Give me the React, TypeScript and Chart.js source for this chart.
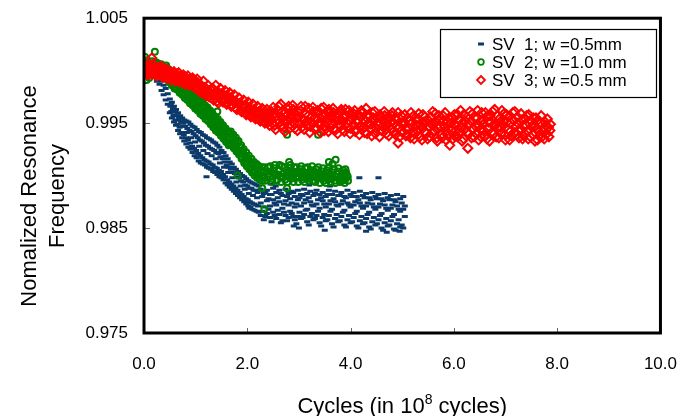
import { useEffect, useRef } from 'react';
import { Chart, registerables } from 'chart.js';

Chart.register(...registerables);

// ---------- data (x in 10^8 cycles, y = normalized resonance frequency) ----------
const seriesNames = ['SV  1; w =0.5mm', 'SV  2; w =1.0 mm', 'SV  3; w =0.5 mm'];

const sv1Points: number[][] = [
  [0.02, 1.0006], [0.05, 1.0000], [0.08, 1.0003], [0.12, 0.9997], [0.15, 1.0001], [0.20, 0.9994], [0.25, 0.9990],
  [0.30, 0.9994], [0.30, 0.9987], [0.34, 0.9981], [0.34, 0.9990], [0.38, 0.9986], [0.38, 0.9977],
  [0.42, 0.9983], [0.42, 0.9972], [0.46, 0.9978], [0.46, 0.9968], [0.50, 0.9973], [0.50, 0.9960], [0.51, 0.9966],
  [0.54, 0.9970], [0.54, 0.9955], [0.58, 0.9966], [0.58, 0.9951], [0.59, 0.9958], [0.62, 0.9963], [0.62, 0.9948],
  [0.66, 0.9960], [0.66, 0.9943], [0.67, 0.9953], [0.70, 0.9957], [0.70, 0.9940], [0.74, 0.9955], [0.74, 0.9936],
  [0.75, 0.9947], [0.78, 0.9953], [0.78, 0.9933], [0.82, 0.9952], [0.82, 0.9930], [0.83, 0.9941], [0.86, 0.9951],
  [0.86, 0.9927], [0.90, 0.9949], [0.90, 0.9925], [0.91, 0.9936], [0.94, 0.9947], [0.94, 0.9922], [0.98, 0.9946],
  [0.98, 0.9919], [0.99, 0.9932], [1.02, 0.9944], [1.02, 0.9917], [1.06, 0.9942], [1.06, 0.9914], [1.07, 0.9928],
  [1.10, 0.9941], [1.10, 0.9912], [1.14, 0.9939], [1.14, 0.9911], [1.15, 0.9924], [1.18, 0.9938], [1.18, 0.9910],
  [1.22, 0.9936], [1.22, 0.9908], [1.23, 0.9921], [1.26, 0.9935], [1.26, 0.9907], [1.30, 0.9934], [1.30, 0.9906],
  [1.31, 0.9919], [1.34, 0.9932], [1.34, 0.9904], [1.38, 0.9931], [1.38, 0.9903], [1.39, 0.9916], [1.42, 0.9929],
  [1.42, 0.9901], [1.46, 0.9927], [1.46, 0.9899], [1.47, 0.9912], [1.50, 0.9924], [1.50, 0.9898], [1.54, 0.9922],
  [1.54, 0.9896], [1.55, 0.9908], [1.58, 0.9919], [1.58, 0.9893], [1.62, 0.9916], [1.62, 0.9891], [1.63, 0.9903],
  [1.66, 0.9913], [1.66, 0.9889], [1.70, 0.9911], [1.70, 0.9887], [1.71, 0.9898], [1.74, 0.9908], [1.74, 0.9885],
  [1.78, 0.9906], [1.78, 0.9883], [1.79, 0.9894], [1.82, 0.9904], [1.82, 0.9881], [1.86, 0.9902], [1.86, 0.9879],
  [1.87, 0.9890], [1.90, 0.9900], [1.90, 0.9877], [1.94, 0.9899], [1.94, 0.9875], [1.95, 0.9887], [1.98, 0.9897],
  [1.98, 0.9873], [2.02, 0.9895], [2.02, 0.9871], [2.03, 0.9883], [2.06, 0.9894], [2.06, 0.9870], [2.10, 0.9893],
  [2.10, 0.9868], [2.11, 0.9881], [2.14, 0.9892], [2.14, 0.9867], [2.18, 0.9891], [2.18, 0.9866], [2.19, 0.9879],
  [2.22, 0.9890], [2.22, 0.9865],
  [0.52, 0.9968], [0.53, 0.9961], [0.56, 0.9964], [0.57, 0.9957], [0.60, 0.9961], [0.61, 0.9953], [0.64, 0.9957],
  [0.65, 0.9949], [0.68, 0.9955], [0.69, 0.9946], [0.72, 0.9951], [0.73, 0.9941], [0.76, 0.9950], [0.77, 0.9939],
  [0.80, 0.9947], [0.81, 0.9936], [0.84, 0.9945], [0.85, 0.9934], [0.88, 0.9943], [0.89, 0.9931], [0.92, 0.9942],
  [0.93, 0.9928], [0.96, 0.9940], [0.97, 0.9926], [1.00, 0.9938], [1.01, 0.9924], [1.04, 0.9936], [1.05, 0.9921],
  [1.08, 0.9934], [1.09, 0.9919], [1.12, 0.9933], [1.13, 0.9917], [1.16, 0.9931], [1.17, 0.9915], [1.20, 0.9929],
  [1.21, 0.9914], [1.24, 0.9928], [1.25, 0.9913], [1.28, 0.9926], [1.29, 0.9911], [1.32, 0.9925], [1.33, 0.9910],
  [1.36, 0.9924], [1.37, 0.9908], [1.40, 0.9922], [1.41, 0.9907], [1.44, 0.9921], [1.45, 0.9905], [1.48, 0.9918],
  [1.49, 0.9904], [1.52, 0.9916], [1.53, 0.9901], [1.56, 0.9913], [1.57, 0.9899], [1.60, 0.9910], [1.61, 0.9896],
  [1.64, 0.9908], [1.65, 0.9894], [1.68, 0.9906], [1.69, 0.9892], [1.72, 0.9903], [1.73, 0.9890], [1.76, 0.9902],
  [1.77, 0.9888], [1.80, 0.9899], [1.81, 0.9886], [1.84, 0.9898], [1.85, 0.9884], [1.88, 0.9895], [1.89, 0.9882],
  [1.92, 0.9894], [1.93, 0.9880], [1.96, 0.9891], [1.97, 0.9878], [2.00, 0.9890], [2.01, 0.9877], [2.04, 0.9888],
  [2.05, 0.9875], [2.08, 0.9888], [2.09, 0.9874], [2.12, 0.9886], [2.13, 0.9873], [2.16, 0.9886], [2.17, 0.9872],
  [2.20, 0.9884], [2.21, 0.9871],
  [2.26, 0.9887], [2.26, 0.9874], [2.26, 0.9862], [2.32, 0.9883], [2.32, 0.9870], [2.32, 0.9858],
  [2.38, 0.9886], [2.38, 0.9876], [2.38, 0.9864], [2.44, 0.9882], [2.44, 0.9871], [2.44, 0.9860],
  [2.50, 0.9888], [2.50, 0.9877], [2.50, 0.9865], [2.56, 0.9884], [2.56, 0.9872], [2.56, 0.9859],
  [2.62, 0.9886], [2.62, 0.9875], [2.62, 0.9863], [2.68, 0.9881], [2.68, 0.9869], [2.68, 0.9857],
  [2.74, 0.9887], [2.74, 0.9876], [2.74, 0.9862], [2.80, 0.9883], [2.80, 0.9872], [2.80, 0.9860],
  [2.86, 0.9885], [2.86, 0.9874], [2.86, 0.9864], [2.92, 0.9880], [2.92, 0.9870], [2.92, 0.9858],
  [2.98, 0.9886], [2.98, 0.9877], [2.98, 0.9861], [3.04, 0.9882], [3.04, 0.9871], [3.04, 0.9859],
  [3.10, 0.9887], [3.10, 0.9874], [3.10, 0.9863], [3.16, 0.9883], [3.16, 0.9868], [3.16, 0.9856],
  [3.22, 0.9885], [3.22, 0.9875], [3.22, 0.9861], [3.28, 0.9881], [3.28, 0.9871], [3.28, 0.9858],
  [3.34, 0.9886], [3.34, 0.9873], [3.34, 0.9862], [3.40, 0.9882], [3.40, 0.9869], [3.40, 0.9855],
  [3.46, 0.9884], [3.46, 0.9876], [3.46, 0.9860], [3.52, 0.9880], [3.52, 0.9870], [3.52, 0.9857],
  [3.58, 0.9886], [3.58, 0.9873], [3.58, 0.9862], [3.64, 0.9882], [3.64, 0.9868], [3.64, 0.9854],
  [3.70, 0.9885], [3.70, 0.9875], [3.70, 0.9859], [3.76, 0.9881], [3.76, 0.9871], [3.76, 0.9856],
  [3.82, 0.9884], [3.82, 0.9873], [3.82, 0.9861], [3.88, 0.9880], [3.88, 0.9867], [3.88, 0.9853],
  [3.94, 0.9886], [3.94, 0.9874], [3.94, 0.9858], [4.00, 0.9882], [4.00, 0.9870], [4.00, 0.9855],
  [4.06, 0.9884], [4.06, 0.9872], [4.06, 0.9860], [4.12, 0.9880], [4.12, 0.9866], [4.12, 0.9852],
  [4.18, 0.9885], [4.18, 0.9874], [4.18, 0.9857], [4.24, 0.9881], [4.24, 0.9869], [4.24, 0.9854],
  [4.30, 0.9883], [4.30, 0.9871], [4.30, 0.9859], [4.36, 0.9879], [4.36, 0.9865], [4.36, 0.9851],
  [4.42, 0.9884], [4.42, 0.9873], [4.42, 0.9856], [4.48, 0.9880], [4.48, 0.9868], [4.48, 0.9853],
  [4.54, 0.9882], [4.54, 0.9870], [4.54, 0.9858], [4.60, 0.9878], [4.60, 0.9864], [4.60, 0.9850],
  [4.66, 0.9883], [4.66, 0.9872], [4.66, 0.9855], [4.72, 0.9879], [4.72, 0.9867], [4.72, 0.9852],
  [4.78, 0.9881], [4.78, 0.9869], [4.78, 0.9857], [4.84, 0.9877], [4.84, 0.9863], [4.84, 0.9849],
  [4.90, 0.9882], [4.90, 0.9871], [4.90, 0.9854], [4.96, 0.9878], [4.96, 0.9866], [4.96, 0.9851],
  [5.02, 0.9880], [5.02, 0.9868], [5.02, 0.9850],
  [2.29, 0.9880], [2.29, 0.9866], [2.35, 0.9884], [2.35, 0.9861], [2.41, 0.9878], [2.41, 0.9868], [2.47, 0.9882],
  [2.47, 0.9856], [2.53, 0.9874], [2.53, 0.9862], [2.59, 0.9879], [2.59, 0.9867], [2.65, 0.9883], [2.65, 0.9855],
  [2.71, 0.9873], [2.71, 0.9865], [2.77, 0.9880], [2.77, 0.9857], [2.83, 0.9878], [2.83, 0.9866], [2.89, 0.9884],
  [2.89, 0.9861], [2.95, 0.9873], [2.95, 0.9854], [3.01, 0.9879], [3.01, 0.9865], [3.07, 0.9881], [3.07, 0.9860],
  [3.13, 0.9877], [3.13, 0.9867], [3.19, 0.9879], [3.19, 0.9853], [3.25, 0.9872], [3.25, 0.9864], [3.31, 0.9883],
  [3.31, 0.9859], [3.37, 0.9877], [3.37, 0.9866], [3.43, 0.9879], [3.43, 0.9852], [3.49, 0.9873], [3.49, 0.9863],
  [3.55, 0.9882], [3.55, 0.9858], [3.61, 0.9876], [3.61, 0.9866], [3.67, 0.9878], [3.67, 0.9851], [3.73, 0.9872],
  [3.73, 0.9863], [3.79, 0.9881], [3.79, 0.9857], [3.85, 0.9876], [3.85, 0.9865], [3.91, 0.9879], [3.91, 0.9851],
  [3.97, 0.9872], [3.97, 0.9862], [4.03, 0.9880], [4.03, 0.9856], [4.09, 0.9875], [4.09, 0.9864], [4.15, 0.9877],
  [4.15, 0.9850], [4.21, 0.9871], [4.21, 0.9861], [4.27, 0.9879], [4.27, 0.9855], [4.33, 0.9874], [4.33, 0.9863],
  [4.39, 0.9877], [4.39, 0.9849], [4.45, 0.9870], [4.45, 0.9860], [4.51, 0.9878], [4.51, 0.9854], [4.57, 0.9873],
  [4.57, 0.9862], [4.63, 0.9876], [4.63, 0.9848], [4.69, 0.9869], [4.69, 0.9859], [4.75, 0.9877], [4.75, 0.9853],
  [4.81, 0.9872], [4.81, 0.9861], [4.87, 0.9875], [4.87, 0.9848], [4.93, 0.9868], [4.93, 0.9858], [4.99, 0.9874],
  [4.99, 0.9853], [5.05, 0.9871], [5.05, 0.9861],
  [1.21, 0.9899], [2.04, 0.9869], [4.17, 0.9898], [4.54, 0.9898], [2.45, 0.9892], [2.55, 0.9890],
  [3.20, 0.9891], [3.60, 0.9890], [2.90, 0.9852], [3.00, 0.9850], [3.50, 0.9848], [4.30, 0.9847],
  [4.70, 0.9846], [4.95, 0.9847],
];

const sv2Points: number[][] = [
  [0.00, 1.0008], [0.01, 1.0001], [0.03, 0.9997], [0.04, 1.0005], [0.06, 1.0010], [0.07, 0.9999], [0.09, 1.0003],
  [0.11, 1.0007], [0.12, 0.9998], [0.14, 1.0004], [0.16, 1.0009], [0.18, 1.0001], [0.20, 1.0006], [0.22, 0.9997],
  [0.24, 1.0003], [0.26, 1.0007], [0.28, 0.9999], [0.30, 1.0004], [0.32, 0.9996], [0.34, 1.0002], [0.36, 1.0005],
  [0.38, 0.9995], [0.40, 1.0000], [0.05, 0.9991], [0.10, 0.9993], [0.21, 1.0018], [0.02, 1.0013],
  [0.01, 1.0004], [0.02, 0.9999], [0.05, 1.0006], [0.08, 1.0001], [0.10, 0.9997], [0.13, 1.0006], [0.15, 1.0002],
  [0.17, 0.9997], [0.19, 1.0004], [0.21, 1.0000], [0.23, 1.0008], [0.25, 0.9999], [0.27, 1.0003], [0.29, 1.0006],
  [0.31, 0.9999], [0.33, 1.0006], [0.35, 0.9998], [0.37, 1.0002], [0.39, 0.9997],
  [0.42, 1.0003], [0.44, 0.9994], [0.47, 0.9999], [0.49, 0.9990], [0.52, 0.9997], [0.54, 0.9988], [0.57, 0.9993],
  [0.59, 0.9985], [0.62, 0.9994], [0.64, 0.9983], [0.67, 0.9989], [0.69, 0.9980], [0.72, 0.9988], [0.74, 0.9978],
  [0.77, 0.9985], [0.79, 0.9976], [0.82, 0.9983], [0.84, 0.9974], [0.87, 0.9980], [0.89, 0.9971], [0.92, 0.9978],
  [0.94, 0.9969], [0.97, 0.9975], [0.99, 0.9966], [1.02, 0.9973], [1.04, 0.9964], [1.07, 0.9970], [1.09, 0.9961],
  [1.12, 0.9968], [1.14, 0.9958], [1.17, 0.9965], [1.19, 0.9956], [1.22, 0.9963], [1.24, 0.9953], [1.27, 0.9960],
  [1.29, 0.9950], [1.32, 0.9957], [1.34, 0.9948], [1.37, 0.9954], [1.39, 0.9945], [1.42, 0.9952], [1.44, 0.9942],
  [1.47, 0.9949], [1.49, 0.9939], [1.52, 0.9946], [1.54, 0.9936], [1.57, 0.9943], [1.59, 0.9933], [1.62, 0.9940],
  [1.64, 0.9930], [1.67, 0.9940], [1.69, 0.9931], [1.72, 0.9937], [1.74, 0.9928], [1.77, 0.9934], [1.79, 0.9925],
  [1.82, 0.9931], [1.84, 0.9921], [1.87, 0.9927], [1.89, 0.9918], [1.92, 0.9923], [1.94, 0.9914], [1.97, 0.9919],
  [1.99, 0.9911], [2.02, 0.9916], [2.04, 0.9908], [2.07, 0.9912], [2.09, 0.9905], [2.12, 0.9910], [2.14, 0.9903],
  [2.17, 0.9908], [2.19, 0.9901], [2.22, 0.9906], [2.24, 0.9899], [2.27, 0.9905], [2.29, 0.9898], [2.32, 0.9904],
  [2.34, 0.9898], [2.37, 0.9904],
  [0.43, 1.0005], [0.44, 0.9992], [0.48, 1.0001], [0.49, 0.9989], [0.53, 0.9999], [0.54, 0.9986], [0.58, 0.9996],
  [0.59, 0.9983], [0.63, 0.9995], [0.64, 0.9982], [0.68, 0.9992], [0.69, 0.9979], [0.73, 0.9990], [0.74, 0.9977],
  [0.78, 0.9987], [0.79, 0.9974], [0.83, 0.9985], [0.84, 0.9972], [0.88, 0.9982], [0.89, 0.9969], [0.93, 0.9980],
  [0.94, 0.9967], [0.98, 0.9977], [0.99, 0.9964], [1.03, 0.9975], [1.04, 0.9962], [1.08, 0.9972], [1.09, 0.9959],
  [1.13, 0.9970], [1.14, 0.9957], [1.18, 0.9967], [1.19, 0.9954], [1.23, 0.9965], [1.24, 0.9952], [1.28, 0.9962],
  [1.29, 0.9949], [1.33, 0.9959], [1.34, 0.9946], [1.38, 0.9956], [1.39, 0.9943], [1.43, 0.9954], [1.44, 0.9941],
  [1.48, 0.9951], [1.49, 0.9938], [1.53, 0.9948], [1.54, 0.9935], [1.58, 0.9945], [1.59, 0.9932], [1.63, 0.9942],
  [1.64, 0.9929], [1.68, 0.9942], [1.69, 0.9929], [1.73, 0.9939], [1.74, 0.9926], [1.78, 0.9936], [1.79, 0.9923],
  [1.83, 0.9933], [1.84, 0.9920], [1.88, 0.9929], [1.89, 0.9916], [1.93, 0.9925], [1.94, 0.9912], [1.98, 0.9922],
  [1.99, 0.9909], [2.03, 0.9919], [2.04, 0.9906], [2.08, 0.9916], [2.09, 0.9903], [2.13, 0.9913], [2.14, 0.9900],
  [2.18, 0.9911], [2.19, 0.9898], [2.23, 0.9909], [2.24, 0.9896], [2.28, 0.9908], [2.29, 0.9895], [2.33, 0.9908],
  [2.34, 0.9895],
  [2.40, 0.9908], [2.43, 0.9899], [2.46, 0.9904], [2.49, 0.9897], [2.52, 0.9907], [2.55, 0.9901], [2.58, 0.9896],
  [2.61, 0.9905], [2.64, 0.9899], [2.67, 0.9909], [2.70, 0.9902], [2.73, 0.9896], [2.76, 0.9905], [2.79, 0.9900],
  [2.82, 0.9907], [2.85, 0.9897], [2.88, 0.9903], [2.91, 0.9908], [2.94, 0.9898], [2.97, 0.9904], [3.00, 0.9899],
  [3.03, 0.9906], [3.06, 0.9896], [3.09, 0.9902], [3.12, 0.9907], [3.15, 0.9897], [3.18, 0.9903], [3.21, 0.9899],
  [3.24, 0.9905], [3.27, 0.9895], [3.30, 0.9901], [3.33, 0.9906], [3.36, 0.9897], [3.39, 0.9902], [3.42, 0.9898],
  [3.45, 0.9904], [3.48, 0.9895], [3.51, 0.9900], [3.54, 0.9905], [3.57, 0.9896], [3.60, 0.9901], [3.63, 0.9897],
  [3.66, 0.9903], [3.69, 0.9895], [3.72, 0.9899], [3.75, 0.9904], [3.78, 0.9896], [3.81, 0.9900], [3.84, 0.9895],
  [3.87, 0.9902], [3.90, 0.9897], [3.93, 0.9900], [3.95, 0.9895],
  [2.415, 0.9902], [2.445, 0.9909], [2.475, 0.9894], [2.505, 0.9902], [2.535, 0.9910], [2.565, 0.9895],
  [2.595, 0.9901], [2.625, 0.9910], [2.655, 0.9894], [2.685, 0.9899], [2.715, 0.9908], [2.745, 0.9900],
  [2.775, 0.9894], [2.805, 0.9903], [2.835, 0.9910], [2.865, 0.9900], [2.895, 0.9894], [2.925, 0.9902],
  [2.955, 0.9908], [2.985, 0.9894], [3.015, 0.9903], [3.045, 0.9909], [3.075, 0.9899], [3.105, 0.9894],
  [3.135, 0.9901], [3.165, 0.9908], [3.195, 0.9895], [3.225, 0.9902], [3.255, 0.9909], [3.285, 0.9900],
  [3.315, 0.9894], [3.345, 0.9903], [3.375, 0.9908], [3.405, 0.9893], [3.435, 0.9900], [3.465, 0.9907],
  [3.495, 0.9898], [3.525, 0.9893], [3.555, 0.9902], [3.585, 0.9908], [3.615, 0.9894], [3.645, 0.9899],
  [3.675, 0.9906], [3.705, 0.9893], [3.735, 0.9902], [3.765, 0.9907], [3.795, 0.9894], [3.825, 0.9898],
  [3.855, 0.9905], [3.885, 0.9893], [3.915, 0.9903], [3.945, 0.9899],
  [1.42, 0.9961], [1.42, 0.9943], [1.81, 0.9900], [2.29, 0.9888], [2.33, 0.9868], [2.77, 0.9939], [3.37, 0.9939],
  [2.77, 0.9888], [2.81, 0.9913], [3.58, 0.9913], [3.65, 0.9911], [3.71, 0.9915], [3.90, 0.9906],
];

const sv3Points: number[][] = [
  [0.00, 1.0003], [0.02, 0.9998], [0.04, 1.0005], [0.06, 1.0000], [0.08, 0.9996], [0.10, 1.0004], [0.13, 1.0001],
  [0.15, 0.9997], [0.15, 1.0012], [0.17, 1.0006], [0.20, 0.9999], [0.23, 1.0003], [0.25, 0.9995], [0.28, 1.0001],
  [0.30, 0.9997], [0.33, 1.0004], [0.36, 0.9994], [0.38, 0.9999], [0.41, 1.0002], [0.44, 0.9993], [0.46, 0.9998],
  [0.49, 1.0000], [0.52, 0.9991], [0.55, 0.9996], [0.58, 0.9999], [0.61, 0.9990], [0.64, 0.9995], [0.67, 0.9998],
  [0.70, 0.9989], [0.73, 0.9993], [0.76, 0.9996], [0.79, 0.9987], [0.82, 0.9991], [0.85, 0.9995], [0.88, 0.9986],
  [0.91, 0.9990], [0.94, 0.9993], [0.97, 0.9984], [1.00, 0.9988],
  [0.01, 1.0000], [0.03, 1.0002], [0.05, 0.9997], [0.07, 1.0003], [0.09, 1.0000], [0.12, 0.9998], [0.14, 1.0003],
  [0.16, 1.0000], [0.19, 1.0002], [0.21, 0.9996], [0.24, 1.0000], [0.27, 0.9998], [0.29, 1.0003], [0.32, 0.9999],
  [0.34, 0.9995], [0.37, 1.0001], [0.40, 0.9997], [0.42, 0.9999], [0.45, 0.9996], [0.48, 0.9994], [0.50, 0.9997],
  [0.53, 0.9995], [0.56, 0.9993], [0.59, 0.9994], [0.62, 0.9997], [0.65, 0.9991], [0.68, 0.9993], [0.71, 0.9995],
  [0.74, 0.9990], [0.77, 0.9992], [0.80, 0.9994], [0.83, 0.9988], [0.86, 0.9990], [0.89, 0.9992], [0.92, 0.9987],
  [0.95, 0.9989], [0.98, 0.9991],
  [1.03, 0.9992], [1.06, 0.9983], [1.09, 0.9987], [1.12, 0.9979], [1.15, 0.9990], [1.18, 0.9984], [1.21, 0.9976],
  [1.24, 0.9986], [1.27, 0.9980], [1.30, 0.9974], [1.33, 0.9983], [1.36, 0.9977], [1.39, 0.9986], [1.42, 0.9971],
  [1.45, 0.9979], [1.48, 0.9983], [1.51, 0.9973], [1.54, 0.9977], [1.57, 0.9981], [1.60, 0.9968], [1.63, 0.9975],
  [1.66, 0.9979], [1.69, 0.9966], [1.72, 0.9972], [1.75, 0.9977], [1.78, 0.9964], [1.81, 0.9969], [1.84, 0.9974],
  [1.87, 0.9962], [1.90, 0.9967], [1.93, 0.9972], [1.96, 0.9960], [1.99, 0.9966], [2.02, 0.9970], [2.05, 0.9958],
  [2.08, 0.9963], [2.11, 0.9968], [2.14, 0.9956], [2.17, 0.9961], [2.20, 0.9966], [2.23, 0.9954], [2.26, 0.9960],
  [2.29, 0.9964], [2.32, 0.9952], [2.35, 0.9958], [2.38, 0.9963], [2.41, 0.9951], [2.44, 0.9956], [2.47, 0.9961],
  [1.02, 0.9985], [1.05, 0.9988], [1.08, 0.9980], [1.11, 0.9985], [1.14, 0.9982], [1.17, 0.9978], [1.20, 0.9983],
  [1.23, 0.9979], [1.26, 0.9975], [1.29, 0.9982], [1.32, 0.9977], [1.35, 0.9972], [1.38, 0.9979], [1.41, 0.9976],
  [1.44, 0.9969], [1.47, 0.9975], [1.50, 0.9978], [1.53, 0.9970], [1.56, 0.9973], [1.59, 0.9976], [1.62, 0.9969],
  [1.65, 0.9972], [1.68, 0.9974], [1.71, 0.9967], [1.74, 0.9970], [1.77, 0.9971], [1.80, 0.9963], [1.83, 0.9968],
  [1.86, 0.9969], [1.89, 0.9961], [1.92, 0.9965], [1.95, 0.9967], [1.98, 0.9958], [2.01, 0.9963], [2.04, 0.9965],
  [2.07, 0.9956], [2.10, 0.9961], [2.13, 0.9963], [2.16, 0.9954], [2.19, 0.9959], [2.22, 0.9961], [2.25, 0.9952],
  [2.28, 0.9957], [2.31, 0.9960], [2.34, 0.9950], [2.37, 0.9955], [2.40, 0.9959], [2.43, 0.9948], [2.46, 0.9953],
  [2.49, 0.9957],
  [2.50, 0.9965], [2.53, 0.9948], [2.56, 0.9957], [2.59, 0.9962], [2.62, 0.9951], [2.65, 0.9968], [2.68, 0.9955],
  [2.71, 0.9946], [2.74, 0.9960], [2.77, 0.9953], [2.80, 0.9966], [2.83, 0.9949], [2.86, 0.9958], [2.89, 0.9963],
  [2.92, 0.9945], [2.95, 0.9955], [2.98, 0.9961], [3.01, 0.9950], [3.04, 0.9966], [3.07, 0.9954], [3.10, 0.9944],
  [3.13, 0.9959], [3.16, 0.9952], [3.19, 0.9964], [3.22, 0.9947], [3.25, 0.9956], [3.28, 0.9961], [3.31, 0.9944],
  [3.34, 0.9953], [3.37, 0.9960], [3.40, 0.9949], [3.43, 0.9964], [3.46, 0.9953], [3.49, 0.9943], [3.52, 0.9958],
  [3.55, 0.9951], [3.58, 0.9963], [3.61, 0.9946], [3.64, 0.9955], [3.67, 0.9960], [3.70, 0.9943], [3.73, 0.9952],
  [3.76, 0.9959], [3.79, 0.9948], [3.82, 0.9963], [3.85, 0.9952], [3.88, 0.9942], [3.91, 0.9957], [3.94, 0.9950],
  [3.97, 0.9962], [4.00, 0.9945], [4.03, 0.9954], [4.06, 0.9959], [4.09, 0.9942], [4.12, 0.9951], [4.15, 0.9958],
  [4.18, 0.9947], [4.21, 0.9962], [4.24, 0.9950], [4.27, 0.9941], [4.30, 0.9964], [4.33, 0.9949], [4.36, 0.9956],
  [4.39, 0.9945], [4.42, 0.9960], [4.45, 0.9952], [4.48, 0.9940], [4.51, 0.9955], [4.54, 0.9948], [4.57, 0.9958],
  [4.60, 0.9943], [4.63, 0.9952], [4.66, 0.9957], [4.69, 0.9940], [4.72, 0.9949], [4.75, 0.9956], [4.78, 0.9945],
  [4.81, 0.9960], [4.84, 0.9950], [4.87, 0.9939], [4.90, 0.9953], [4.92, 0.9931], [4.95, 0.9946], [4.98, 0.9957],
  [2.52, 0.9959], [2.55, 0.9944], [2.58, 0.9953], [2.61, 0.9966], [2.64, 0.9947], [2.67, 0.9961], [2.70, 0.9952],
  [2.73, 0.9942], [2.76, 0.9957], [2.79, 0.9963], [2.82, 0.9945], [2.85, 0.9954], [2.88, 0.9967], [2.91, 0.9950],
  [2.94, 0.9959], [2.97, 0.9943], [3.00, 0.9956], [3.03, 0.9962], [3.06, 0.9946], [3.09, 0.9953], [3.12, 0.9966],
  [3.15, 0.9948], [3.18, 0.9957], [3.21, 0.9941], [3.24, 0.9951], [3.27, 0.9965], [3.30, 0.9955], [3.33, 0.9946],
  [3.36, 0.9962], [3.39, 0.9951], [3.42, 0.9941], [3.45, 0.9957], [3.48, 0.9965], [3.51, 0.9947], [3.54, 0.9954],
  [3.57, 0.9942], [3.60, 0.9960], [3.63, 0.9950], [3.66, 0.9964], [3.69, 0.9945], [3.72, 0.9956], [3.75, 0.9940],
  [3.78, 0.9953], [3.81, 0.9961], [3.84, 0.9944], [3.87, 0.9955], [3.90, 0.9963], [3.93, 0.9946], [3.96, 0.9953],
  [3.99, 0.9940], [4.02, 0.9958], [4.05, 0.9948], [4.08, 0.9962], [4.11, 0.9944], [4.14, 0.9953], [4.17, 0.9939],
  [4.20, 0.9956], [4.23, 0.9960], [4.26, 0.9946], [4.29, 0.9952], [4.32, 0.9940], [4.35, 0.9958], [4.38, 0.9949],
  [4.41, 0.9938], [4.44, 0.9955], [4.47, 0.9961], [4.50, 0.9945], [4.53, 0.9951], [4.56, 0.9937], [4.59, 0.9956],
  [4.62, 0.9947], [4.65, 0.9961], [4.68, 0.9944], [4.71, 0.9954], [4.74, 0.9938], [4.77, 0.9951], [4.80, 0.9957],
  [4.83, 0.9942], [4.86, 0.9955], [4.89, 0.9947], [4.92, 0.9960], [4.95, 0.9937], [4.98, 0.9950],
  [5.01, 0.9941], [5.04, 0.9951], [5.07, 0.9938], [5.10, 0.9955], [5.13, 0.9945], [5.16, 0.9936], [5.19, 0.9950],
  [5.22, 0.9957], [5.25, 0.9940], [5.28, 0.9948], [5.31, 0.9954], [5.34, 0.9937], [5.37, 0.9946], [5.40, 0.9958],
  [5.43, 0.9942], [5.46, 0.9951], [5.49, 0.9935], [5.52, 0.9947], [5.55, 0.9956], [5.58, 0.9940], [5.61, 0.9949],
  [5.64, 0.9959], [5.67, 0.9936], [5.70, 0.9945], [5.73, 0.9953], [5.76, 0.9939], [5.79, 0.9957], [5.82, 0.9946],
  [5.85, 0.9934], [5.88, 0.9951], [5.92, 0.9929], [5.95, 0.9943], [5.98, 0.9955], [6.01, 0.9938], [6.04, 0.9948],
  [6.07, 0.9958], [6.10, 0.9941], [6.13, 0.9962], [6.16, 0.9950], [6.19, 0.9935], [6.22, 0.9945], [6.25, 0.9956],
  [6.27, 0.9926], [6.30, 0.9940], [6.33, 0.9952], [6.36, 0.9959], [6.39, 0.9937], [6.42, 0.9947], [6.45, 0.9955],
  [6.48, 0.9934], [6.51, 0.9944], [6.54, 0.9960], [6.57, 0.9949], [6.60, 0.9938], [6.63, 0.9956], [6.66, 0.9945],
  [6.69, 0.9933], [6.72, 0.9951], [6.75, 0.9961], [6.78, 0.9940], [6.81, 0.9948], [6.84, 0.9957], [6.87, 0.9936],
  [6.90, 0.9946], [6.93, 0.9962], [6.96, 0.9952], [6.99, 0.9939], [7.02, 0.9958], [7.05, 0.9944], [7.08, 0.9934],
  [7.11, 0.9950], [7.14, 0.9960], [7.17, 0.9941], [7.20, 0.9947], [7.23, 0.9956], [7.26, 0.9936], [7.29, 0.9945],
  [7.32, 0.9953], [7.35, 0.9938], [7.38, 0.9949], [7.41, 0.9957], [7.44, 0.9935], [7.47, 0.9944], [7.50, 0.9952],
  [7.53, 0.9939], [7.56, 0.9947], [7.59, 0.9955], [7.62, 0.9934], [7.65, 0.9942], [7.68, 0.9950], [7.71, 0.9937],
  [7.74, 0.9945], [7.77, 0.9951], [7.80, 0.9940], [7.83, 0.9946], [7.86, 0.9943],
  [5.02, 0.9948], [5.05, 0.9958], [5.08, 0.9944], [5.11, 0.9939], [5.14, 0.9952], [5.17, 0.9960], [5.20, 0.9942],
  [5.23, 0.9935], [5.26, 0.9953], [5.29, 0.9943], [5.32, 0.9959], [5.35, 0.9949], [5.38, 0.9934], [5.41, 0.9951],
  [5.44, 0.9956], [5.47, 0.9940], [5.50, 0.9953], [5.53, 0.9937], [5.56, 0.9949], [5.59, 0.9961], [5.62, 0.9943],
  [5.65, 0.9951], [5.68, 0.9933], [5.71, 0.9957], [5.74, 0.9947], [5.77, 0.9936], [5.80, 0.9952], [5.83, 0.9960],
  [5.86, 0.9942], [5.89, 0.9938], [5.92, 0.9954], [5.95, 0.9950], [5.98, 0.9935], [6.01, 0.9958], [6.04, 0.9943],
  [6.07, 0.9937], [6.10, 0.9953], [6.13, 0.9946], [6.16, 0.9933], [6.19, 0.9958], [6.22, 0.9952], [6.25, 0.9941],
  [6.28, 0.9949], [6.31, 0.9961], [6.34, 0.9936], [6.37, 0.9944], [6.40, 0.9955], [6.43, 0.9940], [6.46, 0.9962],
  [6.49, 0.9948], [6.52, 0.9937], [6.55, 0.9953], [6.58, 0.9943], [6.61, 0.9960], [6.64, 0.9935], [6.67, 0.9951],
  [6.70, 0.9957], [6.73, 0.9941], [6.76, 0.9948], [6.79, 0.9963], [6.82, 0.9937], [6.85, 0.9946], [6.88, 0.9954],
  [6.91, 0.9940], [6.94, 0.9949], [6.97, 0.9959], [7.00, 0.9934], [7.03, 0.9951], [7.06, 0.9956], [7.09, 0.9942],
  [7.12, 0.9938], [7.15, 0.9953], [7.18, 0.9961], [7.21, 0.9939], [7.24, 0.9950], [7.27, 0.9944], [7.30, 0.9959],
  [7.33, 0.9935], [7.36, 0.9946], [7.39, 0.9954], [7.42, 0.9942], [7.45, 0.9958], [7.48, 0.9937], [7.51, 0.9947],
  [7.54, 0.9955], [7.57, 0.9933], [7.60, 0.9945], [7.63, 0.9953], [7.66, 0.9938], [7.69, 0.9957], [7.72, 0.9942],
  [7.75, 0.9935], [7.78, 0.9948], [7.81, 0.9954], [7.84, 0.9937], [7.87, 0.9949],
];

const xMin = 0;
const xMax = 10;
const xStep = 2;
const yMin = 0.975;
const yMax = 1.005;
const yStep = 0.01;

const colors = ['#0b3a6b', '#008000', '#ff0000'];
const FONT = '"Liberation Sans", Arial, Helvetica, sans-serif';

const toXY = (pts: number[][]) => pts.map(([x, y]) => ({ x, y }));

const decorPlugin = {
  id: 'decor',
  afterDatasetsDraw(chart: any) {
    const { ctx, chartArea: a, scales } = chart;
    const xs = scales.x;
    const ys = scales.y;
    ctx.save();
    // inner tick marks
    ctx.strokeStyle = '#666';
    ctx.lineWidth = 1;
    ctx.beginPath();
    for (let v = xMin + xStep; v < xMax; v += xStep) {
      const px = Math.round(xs.getPixelForValue(v)) + 0.5;
      ctx.moveTo(px, a.bottom);
      ctx.lineTo(px, a.bottom - 5);
    }
    for (let v = yMin + yStep; v < yMax - 1e-9; v += yStep) {
      const py = Math.round(ys.getPixelForValue(v)) + 0.5;
      ctx.moveTo(a.left, py);
      ctx.lineTo(a.left + 6, py);
    }
    ctx.stroke();
    // frame
    ctx.strokeStyle = '#000';
    ctx.lineWidth = 3;
    ctx.strokeRect(a.left, a.top, a.right - a.left, a.bottom - a.top);

    // legend
    const lx = 440, ly = 29, lw = 216, lh = 68;
    ctx.fillStyle = '#fff';
    ctx.fillRect(lx, ly, lw, lh);
    ctx.lineWidth = 1.2;
    ctx.strokeStyle = '#000';
    ctx.strokeRect(lx + 0.5, ly + 0.5, lw, lh);
    const mx = 481;
    const rows = [44, 62, 80];
    ctx.fillStyle = colors[0];
    ctx.fillRect(mx - 3, rows[0] - 1.5, 6, 3);
    ctx.strokeStyle = colors[1];
    ctx.lineWidth = 1.8;
    ctx.beginPath();
    ctx.arc(mx, rows[1], 2.8, 0, Math.PI * 2);
    ctx.stroke();
    ctx.strokeStyle = colors[2];
    ctx.beginPath();
    ctx.moveTo(mx, rows[2] - 4);
    ctx.lineTo(mx + 4, rows[2]);
    ctx.lineTo(mx, rows[2] + 4);
    ctx.lineTo(mx - 4, rows[2]);
    ctx.closePath();
    ctx.stroke();
    ctx.fillStyle = '#000';
    ctx.font = `17px ${FONT}`;
    ctx.textBaseline = 'middle';
    ctx.textAlign = 'left';
    seriesNames.forEach((n, i) => ctx.fillText(n, 492, rows[i] + 1));

    // y title
    ctx.save();
    ctx.font = `22px ${FONT}`;
    ctx.textAlign = 'center';
    ctx.textBaseline = 'middle';
    ctx.translate(30, 196);
    ctx.rotate(-Math.PI / 2);
    ctx.fillText('Nomalized Resonance', 0, 0);
    ctx.fillText('Frequency', 0, 28);
    ctx.restore();

    // x title with superscript
    const p1 = 'Cycles (in 10';
    const sup = '8';
    const p2 = ' cycles)';
    ctx.textBaseline = 'alphabetic';
    ctx.textAlign = 'left';
    ctx.font = `22px ${FONT}`;
    const w1 = ctx.measureText(p1).width;
    const w3 = ctx.measureText(p2).width;
    ctx.font = `14px ${FONT}`;
    const w2 = ctx.measureText(sup).width;
    const total = w1 + w2 + w3;
    const cx = (a.left + a.right) / 2;
    const x0 = cx - total / 2;
    const base = 413;
    ctx.font = `22px ${FONT}`;
    ctx.fillText(p1, x0, base);
    ctx.font = `14px ${FONT}`;
    ctx.fillText(sup, x0 + w1, base - 9);
    ctx.font = `22px ${FONT}`;
    ctx.fillText(p2, x0 + w1 + w2, base);
    ctx.restore();
  },
};

export default function App() {
  const ref = useRef<HTMLCanvasElement | null>(null);
  useEffect(() => {
    if (!ref.current) return;
    const chart = new Chart(ref.current, {
      type: 'scatter',
      data: {
        datasets: [
          {
            label: seriesNames[0],
            data: toXY(sv1Points),
            pointStyle: 'line',
            pointRadius: 3,
            pointBorderWidth: 3,
            borderColor: colors[0],
            backgroundColor: colors[0],
            order: 3,
          },
          {
            label: seriesNames[1],
            data: toXY(sv2Points),
            pointStyle: 'circle',
            pointRadius: 3,
            pointBorderWidth: 2,
            borderColor: colors[1],
            backgroundColor: 'rgba(0,0,0,0)',
            order: 2,
          },
          {
            label: seriesNames[2],
            data: toXY(sv3Points),
            pointStyle: 'rectRot',
            pointRadius: 4.5,
            pointBorderWidth: 2,
            borderColor: colors[2],
            backgroundColor: 'rgba(0,0,0,0)',
            order: 1,
          },
        ],
      },
      options: {
        animation: false,
        responsive: false,
        devicePixelRatio: 1,
        layout: { padding: { top: 11, right: 26, left: 0, bottom: 0 } },
        plugins: { legend: { display: false }, tooltip: { enabled: false } },
        events: [],
        scales: {
          x: {
            type: 'linear',
            min: xMin,
            max: xMax,
            grid: { display: false },
            border: { display: false },
            ticks: {
              stepSize: xStep,
              color: '#000',
              padding: 13,
              font: { family: FONT, size: 17 },
              maxRotation: 0,
              callback: (v: any) => Number(v).toFixed(1),
            },
            afterFit: (s: any) => { s.height = 83; },
          },
          y: {
            type: 'linear',
            min: yMin,
            max: yMax,
            grid: { display: false },
            border: { display: false },
            ticks: {
              stepSize: yStep,
              color: '#000',
              padding: 8,
              font: { family: FONT, size: 17 },
              callback: (v: any) => Number(v).toFixed(3),
            },
            afterFit: (s: any) => { s.width = 144; },
          },
        },
      },
      plugins: [decorPlugin],
    });
    return () => chart.destroy();
  }, []);
  return (
    <div style={{ position: 'absolute', left: 0, top: 0, width: 690, height: 416, background: '#fff' }}>
      <canvas ref={ref} width={690} height={416} />
    </div>
  );
}
